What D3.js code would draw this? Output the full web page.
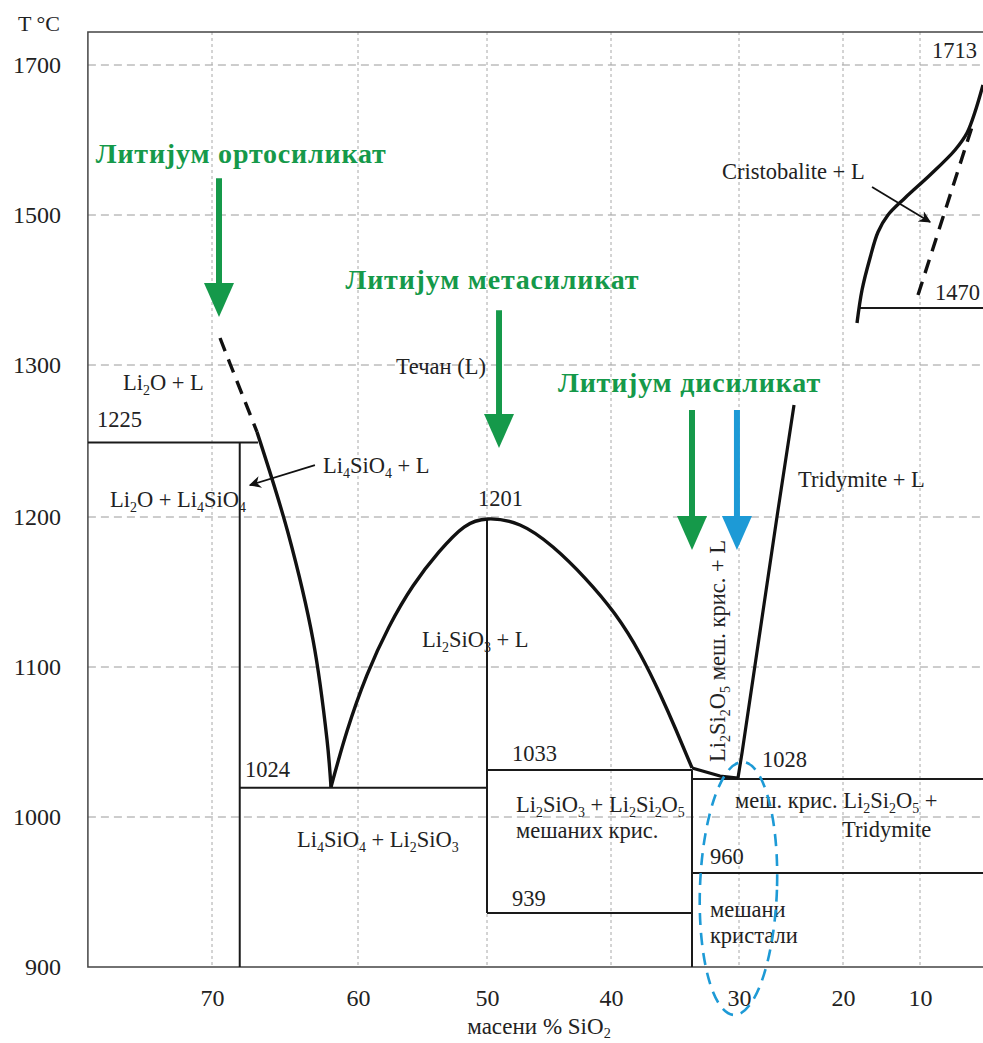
<!DOCTYPE html>
<html>
<head>
<meta charset="utf-8">
<title>Li2O - SiO2 фазни дијаграм</title>
<script src="https://d3js.org/d3.v7.min.js"></script>
<style>
  body { margin: 0; background: #fff; }
</style>
</head>
<body>
<div id="chart"></div>
<script>
// axis values
var xTicks = [70, 60, 50, 40, 30, 20, 10];
var yTicks = [900, 1000, 1100, 1200, 1300, 1500, 1700];
var yGrid = [1000, 1100, 1200, 1300, 1500, 1700];
var frameX = [78.5, 1.8];      // left / right edge of plot, in % SiO2
var frameY = [900, 1744];      // bottom / top edge of plot, in deg C

// liquidus curves [wt %, T]
var orthoDashed = [[69.45, 1336], [68.73, 1300], [66.92, 1256]];
var orthoLiquidus = [[66.92, 1256], [64.79, 1189.3], [63.08, 1118], [62.12, 1051.3], [61.85, 1020]];
var metaLiquidus = [[61.85, 1020], [60.75, 1057.3], [59.3, 1094.7], [57.6, 1126.7], [55.74, 1154],
  [53.72, 1176.7], [51.78, 1193.3], [49.92, 1198.7], [47.34, 1194.7], [44.68, 1180],
  [42.1, 1159.3], [39.69, 1135.3], [37.73, 1108.7], [36.17, 1082], [34.92, 1058], [33.67, 1032.7]];
var disilLiquidus = [[33.67, 1032.7], [31.48, 1027.3], [30.08, 1026]];
var tridymiteLiquidus = [[30.08, 1026], [29.71, 1042.7], [26.35, 1200], [24.71, 1273.7]];
var cristobaliteLiquidus = [[18.18, 1356], [17.53, 1400], [16.49, 1442.7], [15.45, 1477.3],
  [14.16, 1500], [11.95, 1522.7], [8.7, 1553.3], [5.45, 1586.7], [3.9, 1609.3], [2.86, 1637.3],
  [1.82, 1673.3]];
var inversionDashed = [[10.26, 1393.3], [3.25, 1617.3]];

// solidus / boundary segments [x1, T1, x2, T2]
var boundaries = [
  [78.5, 1249, 66.85, 1249],
  [68.1, 1249, 68.1, 900],
  [68.1, 1019.5, 50, 1019.5],
  [50, 1198.7, 50, 936],
  [50, 1031.3, 33.67, 1031.3],
  [50, 936, 33.67, 936],
  [33.67, 1031.3, 33.67, 900],
  [33.67, 1025.3, 1.8, 1025.3],
  [33.67, 962.7, 1.8, 962.7],
  [17.8, 1376, 1.8, 1376]
];

// compound arrows [x, shaft top T, tip T]
var greenArrows = [[69.52, 1549, 1364], [49.03, 1373, 1245.4], [33.67, 1270.4, 1178]];
var blueArrows = [[30.16, 1270.4, 1178]];
var compoundNames = ["Литијум ортосиликат", "Литијум метасиликат", "Литијум дисиликат"];
var compoundPos = [[68.0, 1570], [49.56, 1402], [33.87, 1282]];

// pointer arrows [x1, T1, x2, T2]
var pointers = [[62.95, 1234.2, 67.4, 1221], [16.23, 1537.3, 8.7, 1490.7]];

// region and temperature labels, {n} = subscript
var labels = [
  ["1713", 8.44, 1709],
  ["Cristobalite + L", 31.33, 1548],
  ["1470", 8.05, 1386.7],
  ["Li{2}O + L", 76.1, 1283.6],
  ["1225", 77.88, 1259.2],
  ["Li{2}O + Li{4}SiO{4}", 76.99, 1206.7],
  ["Li{4}SiO{4} + L", 62.4, 1228.9],
  ["Течан (L)", 57.06, 1294],
  ["1201", 50.7, 1207.2],
  ["Li{2}SiO{3} + L", 55.04, 1113.3],
  ["1024", 67.74, 1026.7],
  ["Li{4}SiO{4} + Li{2}SiO{3}", 64.18, 980],
  ["1033", 47.98, 1037.3],
  ["Li{2}SiO{3} + Li{2}Si{2}O{5}", 47.66, 1003.3],
  ["мешаних крис.", 47.66, 986],
  ["939", 47.98, 940.7],
  ["1028", 27.79, 1033.3],
  ["меш. крис. Li{2}Si{2}O{5} +", 30.31, 1006],
  ["Tridymite", 20.1, 986.7],
  ["960", 32.27, 968.7],
  ["мешани", 32.27, 933.3],
  ["кристали", 32.27, 916],
  ["Tridymite + L", 24.33, 1219.7]
];
var verticalLabel = ["Li{2}Si{2}O{5} меш. крис. + L", 31.72, 1110.7];
// dashed ellipse extent [left x, right x, top T, bottom T]
var ellipseBox = [33.05, 26.35, 1036.7, 868];

var W = 983, H = 1043;
var green = "#15994a", blue = "#1d9ad6";
var serif = "'Liberation Serif', 'DejaVu Serif', serif";

var x = d3.scaleLinear().domain(xTicks).range([212, 358, 487, 611, 739, 843, 920]);
var y = d3.scaleLinear().domain([900, 1000, 1200, 1300, 1500, 1700]).range([967, 817, 517, 365, 215, 65]);

var svg = d3.select("#chart").append("svg")
  .attr("width", W).attr("height", H)
  .style("font-family", serif);

var x0 = x(frameX[0]), x1 = x(frameX[1]), yb = y(frameY[0]), yt = y(frameY[1]);

svg.append("defs").append("clipPath").attr("id", "plot")
  .append("rect").attr("x", x0).attr("y", yt).attr("width", x1 - x0 + 5).attr("height", yb - yt);

svg.append("defs").append("marker")
  .attr("id", "head").attr("markerUnits", "userSpaceOnUse")
  .attr("viewBox", "0 0 10 10").attr("refX", 9).attr("refY", 5)
  .attr("markerWidth", 16).attr("markerHeight", 12).attr("orient", "auto")
  .append("path").attr("d", "M0,0 L10,5 L0,10 L3,5 Z").attr("fill", "#111");

// grid
svg.append("g").selectAll("line").data(yGrid).join("line")
  .attr("x1", x0).attr("x2", x1)
  .attr("y1", function(d) { return y(d); }).attr("y2", function(d) { return y(d); })
  .attr("stroke", "#9a9a9a").attr("stroke-width", 1).attr("stroke-dasharray", "8,5");
svg.append("g").selectAll("line").data(xTicks).join("line")
  .attr("x1", function(d) { return x(d); }).attr("x2", function(d) { return x(d); })
  .attr("y1", yt).attr("y2", yb)
  .attr("stroke", "#a8a8a8").attr("stroke-width", 1).attr("stroke-dasharray", "3,3");

// frame
svg.append("path")
  .attr("d", "M" + x1 + "," + yt + "H" + x0 + "V" + yb + "H" + x1)
  .attr("fill", "none").attr("stroke", "#444").attr("stroke-width", 1.5);

// axes
var xAxis = svg.append("g").attr("transform", "translate(0," + yb + ")")
  .call(d3.axisBottom(x).tickValues(xTicks).tickSize(0).tickPadding(22).tickFormat(d3.format("d")));
xAxis.select(".domain").remove();
xAxis.attr("font-family", serif).attr("font-size", 24).attr("color", "#222");

var yAxis = svg.append("g").attr("transform", "translate(" + x0 + ",0)")
  .call(d3.axisLeft(y).tickValues(yTicks).tickSize(0).tickPadding(27).tickFormat(d3.format("d")));
yAxis.select(".domain").remove();
yAxis.attr("font-family", serif).attr("font-size", 24).attr("color", "#222");

function rich(t, str, shift) {
  shift = shift || 5;
  var parts = str.split(/\{([^}]*)\}/);
  var shifted = false;
  parts.forEach(function(p, i) {
    if (i % 2 === 1) {
      t.append("tspan").style("font-size", "62%").attr("dy", shift).text(p);
      shifted = true;
    } else if (p) {
      var s = t.append("tspan").text(p);
      if (shifted) { s.attr("dy", -shift); shifted = false; }
    }
  });
  return t;
}

svg.append("text").attr("x", 18).attr("y", 31)
  .attr("font-size", 22).attr("fill", "#222").text("T °C");
rich(svg.append("text").attr("x", 539).attr("y", 1034)
  .attr("text-anchor", "middle").attr("font-size", 23).attr("fill", "#222"), "масени % SiO{2}", 4);

var plot = svg.append("g").attr("clip-path", "url(#plot)");
var line = d3.line().x(function(d) { return x(d[0]); }).y(function(d) { return y(d[1]); });
var curve = d3.line().x(function(d) { return x(d[0]); }).y(function(d) { return y(d[1]); })
  .curve(d3.curveCatmullRom.alpha(0.5));
var smooth = d3.line().x(function(d) { return x(d[0]); }).y(function(d) { return y(d[1]); })
  .curve(d3.curveNatural);

// boundaries
plot.append("g").selectAll("line").data(boundaries).join("line")
  .attr("x1", function(d) { return x(d[0]); }).attr("y1", function(d) { return y(d[1]); })
  .attr("x2", function(d) { return x(d[2]); }).attr("y2", function(d) { return y(d[3]); })
  .attr("stroke", "#1a1a1a").attr("stroke-width", 2);

// liquidus
[orthoLiquidus, cristobaliteLiquidus].forEach(function(pts) {
  plot.append("path").attr("d", curve(pts)).attr("fill", "none")
    .attr("stroke", "#111").attr("stroke-width", 3.4).attr("stroke-linejoin", "round");
});
plot.append("path").attr("d", smooth(metaLiquidus)).attr("fill", "none")
  .attr("stroke", "#111").attr("stroke-width", 3.4).attr("stroke-linejoin", "round");
[disilLiquidus, tridymiteLiquidus].forEach(function(pts) {
  plot.append("path").attr("d", line(pts)).attr("fill", "none")
    .attr("stroke", "#111").attr("stroke-width", 3.2).attr("stroke-linejoin", "round");
});
[orthoDashed, inversionDashed].forEach(function(pts) {
  plot.append("path").attr("d", line(pts)).attr("fill", "none")
    .attr("stroke", "#111").attr("stroke-width", 3.4).attr("stroke-dasharray", "14,9");
});

// pointers
svg.append("g").selectAll("line").data(pointers).join("line")
  .attr("x1", function(d) { return x(d[0]); }).attr("y1", function(d) { return y(d[1]); })
  .attr("x2", function(d) { return x(d[2]); }).attr("y2", function(d) { return y(d[3]); })
  .attr("stroke", "#111").attr("stroke-width", 1.8).attr("marker-end", "url(#head)");

// labels
labels.forEach(function(l) {
  rich(svg.append("text").attr("x", x(l[1])).attr("y", y(l[2]))
    .attr("font-size", 22.5).attr("fill", "#222"), l[0]);
});
rich(svg.append("text")
  .attr("transform", "translate(" + x(verticalLabel[1]) + "," + y(verticalLabel[2]) + ") rotate(-90)")
  .attr("text-anchor", "middle").attr("dy", "0.35em")
  .attr("font-size", 22.5).attr("fill", "#222"), verticalLabel[0]);

// big arrows
function bigArrow(d, color) {
  var ax = x(d[0]), top = y(d[1]), tip = y(d[2]);
  svg.append("line").attr("x1", ax).attr("x2", ax).attr("y1", top).attr("y2", tip - 30)
    .attr("stroke", color).attr("stroke-width", 6);
  svg.append("path")
    .attr("d", "M" + (ax - 15) + "," + (tip - 34) + "L" + (ax + 15) + "," + (tip - 34) + "L" + ax + "," + tip + "Z")
    .attr("fill", color);
}
greenArrows.forEach(function(d) { bigArrow(d, green); });
blueArrows.forEach(function(d) { bigArrow(d, blue); });

compoundNames.forEach(function(n, i) {
  svg.append("text").attr("x", x(compoundPos[i][0])).attr("y", y(compoundPos[i][1]))
    .attr("text-anchor", "middle").attr("font-size", 28).attr("font-weight", "bold")
    .attr("letter-spacing", 0.8).attr("fill", green).text(n);
});

// dashed ellipse
var ecx = (x(ellipseBox[0]) + x(ellipseBox[1])) / 2, ecy = (y(ellipseBox[2]) + y(ellipseBox[3])) / 2;
svg.append("ellipse")
  .attr("cx", ecx).attr("cy", ecy)
  .attr("rx", (x(ellipseBox[1]) - x(ellipseBox[0])) / 2)
  .attr("ry", (y(ellipseBox[3]) - y(ellipseBox[2])) / 2)
  .attr("transform", "rotate(2," + ecx + "," + ecy + ")")
  .attr("fill", "none").attr("stroke", blue).attr("stroke-width", 2.6).attr("stroke-dasharray", "12,8");
</script>
</body>
</html>
